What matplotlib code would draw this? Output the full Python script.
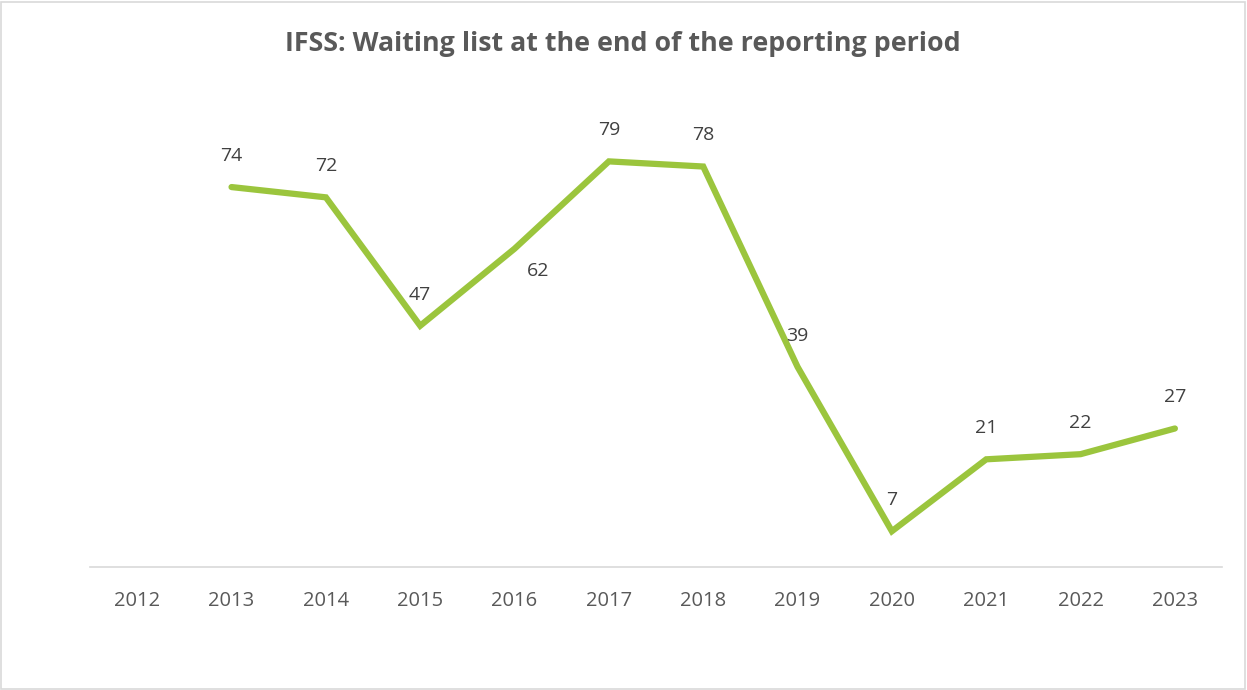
import matplotlib
matplotlib.use("Agg")
import matplotlib.pyplot as plt
from matplotlib.patches import Rectangle

plt.rcParams['font.family'] = ['Open Sans', 'DejaVu Sans']

categories = ['2012', '2013', '2014', '2015', '2016', '2017', '2018', '2019', '2020', '2021', '2022', '2023']
values = [None, 74, 72, 47, 62, 79, 78, 39, 7, 21, 22, 27]
title = 'IFSS: Waiting list at the end of the reporting period'

fig = plt.figure(figsize=(12.47, 6.90), dpi=100)
fig.patches.append(Rectangle((0.0008, 0.0015), 0.9976, 0.996, transform=fig.transFigure,
                             fill=False, edgecolor='#D9D9D9', linewidth=1.2))
ax = fig.add_axes([0.0722, 0.178, 0.9078, 0.670])

xs = [i for i, v in enumerate(values) if v is not None]
ys = [v for v in values if v is not None]
ax.plot(xs, ys, color='#9BC53D', linewidth=4.5, solid_capstyle='round', solid_joinstyle='miter')

for x, y in zip(xs, ys):
    dx, dy = (0, 22.5)
    if y == 62:
        dx, dy = (17, -16)
    ax.annotate(str(y), (x, y), xytext=(dx, dy), textcoords='offset points',
                ha='center', va='center', fontsize=14, color='#404040')

ax.set_xlim(-0.5, len(categories) - 0.5)
ax.set_ylim(0, 90)
ax.set_xticks(range(len(categories)))
ax.set_xticklabels(categories)
ax.tick_params(axis='x', length=0, pad=17, labelsize=14.5, labelcolor='#595959')
ax.set_yticks([])
for s in ['top', 'right', 'left']:
    ax.spines[s].set_visible(False)
ax.spines['bottom'].set_color('#D9D9D9')
ax.spines['bottom'].set_linewidth(1.2)

fig.text(0.4996, 0.936, title, ha='center', va='center', fontsize=19.3, fontweight='bold', color='#595959')

fig.savefig('out.png', dpi=100)
